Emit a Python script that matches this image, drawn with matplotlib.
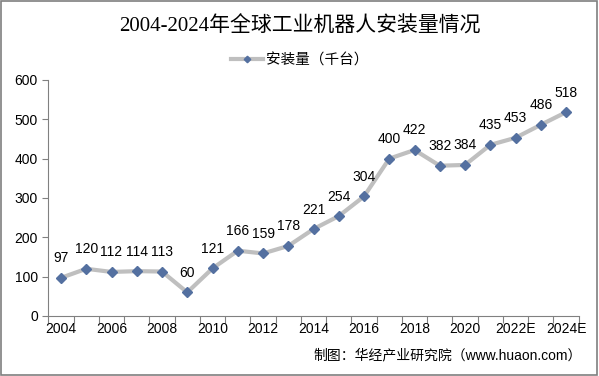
import numpy as np
import matplotlib
matplotlib.use('Agg')
from matplotlib import pyplot as plt
from matplotlib.patches import Rectangle

plt.rcParams['font.family'] = ['Liberation Sans', 'Noto Sans CJK SC']

# data
years = ['2004', '2005', '2006', '2007', '2008', '2009', '2010', '2011', '2012',
         '2013', '2014', '2015', '2016', '2017', '2018', '2019', '2020', '2021',
         '2022E', '2023E', '2024E']
installs = [97, 120, 112, 114, 113, 60, 121, 166, 159, 178, 221, 254, 304,
            400, 422, 382, 384, 435, 453, 486, 518]

title = '2004-2024年全球工业机器人安装量情况'
series_name = '安装量（千台）'
source = '制图：华经产业研究院（www.huaon.com）'

fig = plt.figure(figsize=(5.99, 3.76), dpi=100)
ax = fig.add_axes([0.0808, 0.1596, 0.8852, 0.6277])

x = np.arange(len(years))
ax.plot(x, installs, color='#BFBFBF', linewidth=3, marker='D', markersize=5.5,
        markerfacecolor='#5470A0', markeredgecolor='#5470A0', label=series_name)
for xi, v in zip(x, installs):
    ax.annotate(str(v), (xi, v), xytext=(0, 9), textcoords='offset points',
                ha='center', va='bottom', fontsize=10)

ax.set_xlim(-0.5, len(years) - 0.5)
ax.set_ylim(0, 600)
ax.set_yticks(np.arange(0, 601, 100))
ax.set_xticks(np.arange(-0.5, len(years), 1))
ax.set_xticklabels([])
ax.set_xticks(x[::2], minor=True)
ax.set_xticklabels(years[::2], minor=True)
ax.tick_params(axis='x', which='major', length=5, color='#808080')
ax.tick_params(axis='x', which='minor', length=0, labelsize=10, pad=4)
ax.tick_params(axis='y', length=4, color='#808080', labelsize=10)
for s in ['top', 'right']:
    ax.spines[s].set_visible(False)
for s in ['left', 'bottom']:
    ax.spines[s].set_color('#808080')

fig.text(0.5, 0.928, title, ha='center', va='center', fontsize=15,
         family=['Liberation Serif', 'Noto Sans CJK SC'], weight='medium')
leg = fig.legend(loc='center', bbox_to_anchor=(0.5, 0.84), frameon=False,
                 fontsize=10.5, handlelength=2.2, handletextpad=0.2, markerscale=0.6)
fig.text(0.972, 0.056, source, ha='right', va='center', fontsize=10)

fig.patches.append(Rectangle((0.002, 0.003), 0.995, 0.994, transform=fig.transFigure,
                             fill=False, edgecolor='#7F7F7F', linewidth=1.2))

fig.savefig('out.png', dpi=100)
plt.close()
